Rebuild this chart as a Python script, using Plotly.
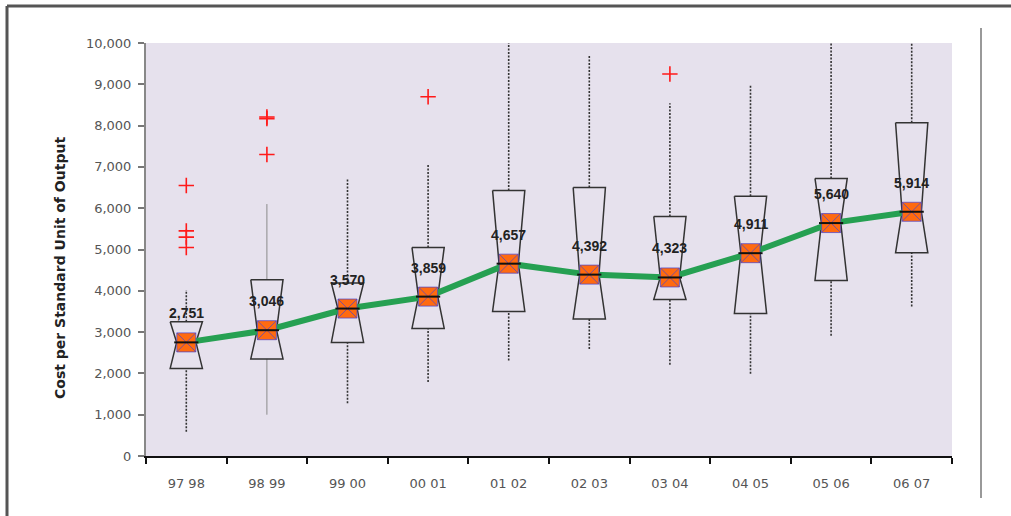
import plotly.graph_objects as go

# ---------------- data ----------------
categories = ["97 98", "98 99", "99 00", "00 01", "01 02",
              "02 03", "03 04", "04 05", "05 06", "06 07"]
medians = [2751, 3046, 3570, 3859, 4657, 4392, 4323, 4911, 5640, 5914]
q1 = [2120, 2350, 2750, 3090, 3500, 3320, 3790, 3450, 4250, 4920]
q3 = [3250, 4270, 4190, 5050, 6430, 6500, 5800, 6290, 6720, 8070]
whisker_low = [590, 1000, 1280, 1790, 2310, 2590, 2210, 1990, 2910, 3620]
whisker_high = [4020, 6100, 6700, 7050, 10300, 9700, 8540, 9000, 10300, 10300]
outlier_cat = ["97 98", "97 98", "97 98", "97 98",
               "98 99", "98 99", "98 99", "00 01", "03 04"]
outlier_val = [6550, 5450, 5300, 5050, 8210, 8170, 7300, 8700, 9250]
y_ticks = [0, 1000, 2000, 3000, 4000, 5000, 6000, 7000, 8000, 9000, 10000]
y_title = "Cost per Standard Unit of Output"

# ---------------- geometry helpers (style only) ----------------
HALF = 0.2      # half box width in category units
NOTCH = 0.6     # fraction of half width kept at the median

pos = {c: i for i, c in enumerate(categories)}
xs = list(range(len(categories)))

# notched box outlines
bx, by = [], []
for i, (a, m, b) in enumerate(zip(q1, medians, q3)):
    bx += [i - HALF, i - HALF * NOTCH, i - HALF, i + HALF, i + HALF * NOTCH, i + HALF, i - HALF, None]
    by += [b, m, a, a, m, b, b, None]

# whiskers
wx_d, wy_d, wx_s, wy_s = [], [], [], []
for i, (lo, a, b, hi) in enumerate(zip(whisker_low, q1, q3, whisker_high)):
    if i == 1:
        wx_s += [i, i, None, i, i, None]
        wy_s += [b, hi, None, lo, a, None]
    else:
        wx_d += [i, i, None, i, i, None]
        wy_d += [b, hi, None, lo, a, None]

# median bars
mx, my = [], []
for i, m in enumerate(medians):
    mx += [i - HALF * 0.75, i + HALF * 0.75, None]
    my += [m, m, None]

fig = go.Figure()

fig.add_trace(go.Scatter(x=wx_d, y=wy_d, mode="lines",
                         line=dict(color="#333333", width=1.6, dash="2px,1.5px"),
                         hoverinfo="skip", showlegend=False))
fig.add_trace(go.Scatter(x=wx_s, y=wy_s, mode="lines",
                         line=dict(color="#8a8a8a", width=1),
                         hoverinfo="skip", showlegend=False))
fig.add_trace(go.Scatter(x=bx, y=by, mode="lines",
                         line=dict(color="#333333", width=1.5),
                         hoverinfo="skip", showlegend=False))
fig.add_trace(go.Scatter(x=[pos[c] for c in outlier_cat], y=outlier_val, mode="markers",
                         marker=dict(symbol="cross-thin", size=11,
                                     line=dict(color="#ff1a1a", width=1.6)),
                         hoverinfo="skip", showlegend=False))
fig.add_trace(go.Scatter(x=xs, y=medians, mode="lines",
                         line=dict(color="#26a052", width=6),
                         hoverinfo="skip", showlegend=False))
fig.add_trace(go.Scatter(x=xs, y=medians, mode="markers",
                         marker=dict(symbol="square-x", size=19, color="#ff6a10",
                                     line=dict(color="rgba(80,70,200,0.75)", width=1)),
                         hoverinfo="skip", showlegend=False))
fig.add_trace(go.Scatter(x=mx, y=my, mode="lines",
                         line=dict(color="#111111", width=2),
                         hoverinfo="skip", showlegend=False))

for i, m in enumerate(medians):
    fig.add_annotation(x=i, y=m, text=f"<b>{m:,}</b>", showarrow=False, yshift=29,
                       font=dict(family="Liberation Sans, Arial", size=14, color="#222222"),
                       xanchor="center", yanchor="middle")

# layout pixel helpers
L, R, T, B = 146, 952, 43, 456
def px(v):
    return (v - L) / (R - L)
def py(v):
    return (B - v) / (B - T)

fig.add_annotation(xref="paper", yref="paper", x=px(60), y=py(268), text=f"<b>{y_title}</b>",
                   textangle=-90, showarrow=False, xanchor="center", yanchor="middle",
                   font=dict(family="DejaVu Sans", size=14, color="#222222"))

# decorative outer frame
fig.add_shape(type="line", xref="paper", yref="paper", x0=px(7), x1=px(1015), y0=py(6), y1=py(6),
              line=dict(color="#555555", width=3))
fig.add_shape(type="line", xref="paper", yref="paper", x0=px(7), x1=px(7), y0=py(6), y1=py(520),
              line=dict(color="#555555", width=3))
fig.add_shape(type="line", xref="paper", yref="paper", x0=px(981), x1=px(981), y0=py(28), y1=py(498),
              line=dict(color="#777777", width=1.5))

fig.update_layout(
    width=1011, height=516, autosize=False,
    margin=dict(l=L, r=1011 - R, t=T, b=516 - B),
    paper_bgcolor="white", plot_bgcolor="#e6e1ed",
    showlegend=False,
    xaxis=dict(range=[-0.5, 9.5], tickvals=xs, ticktext=categories, ticks="",
               showline=True, linecolor="#111111", linewidth=2, showgrid=False, zeroline=False,
               tickfont=dict(family="DejaVu Sans", size=13, color="#555555"),
               ticklabelstandoff=14,
               minor=dict(tickvals=[k - 0.5 for k in range(len(categories) + 1)],
                          ticks="outside", ticklen=6, tickwidth=1.5, tickcolor="#111111",
                          showgrid=False)),
    yaxis=dict(range=[0, 10000], tickvals=y_ticks, tickformat=",", ticks="outside",
               ticklen=6, tickcolor="#777777", tickwidth=1.5,
               showline=True, linecolor="#888888", linewidth=2, showgrid=False, zeroline=False,
               tickfont=dict(family="DejaVu Sans", size=13, color="#555555"),
               ticklabelstandoff=4),
)

fig.write_html("out.html", config={"displayModeBar": False},
               post_script="document.body.style.margin='0';document.body.style.overflow='hidden';")
